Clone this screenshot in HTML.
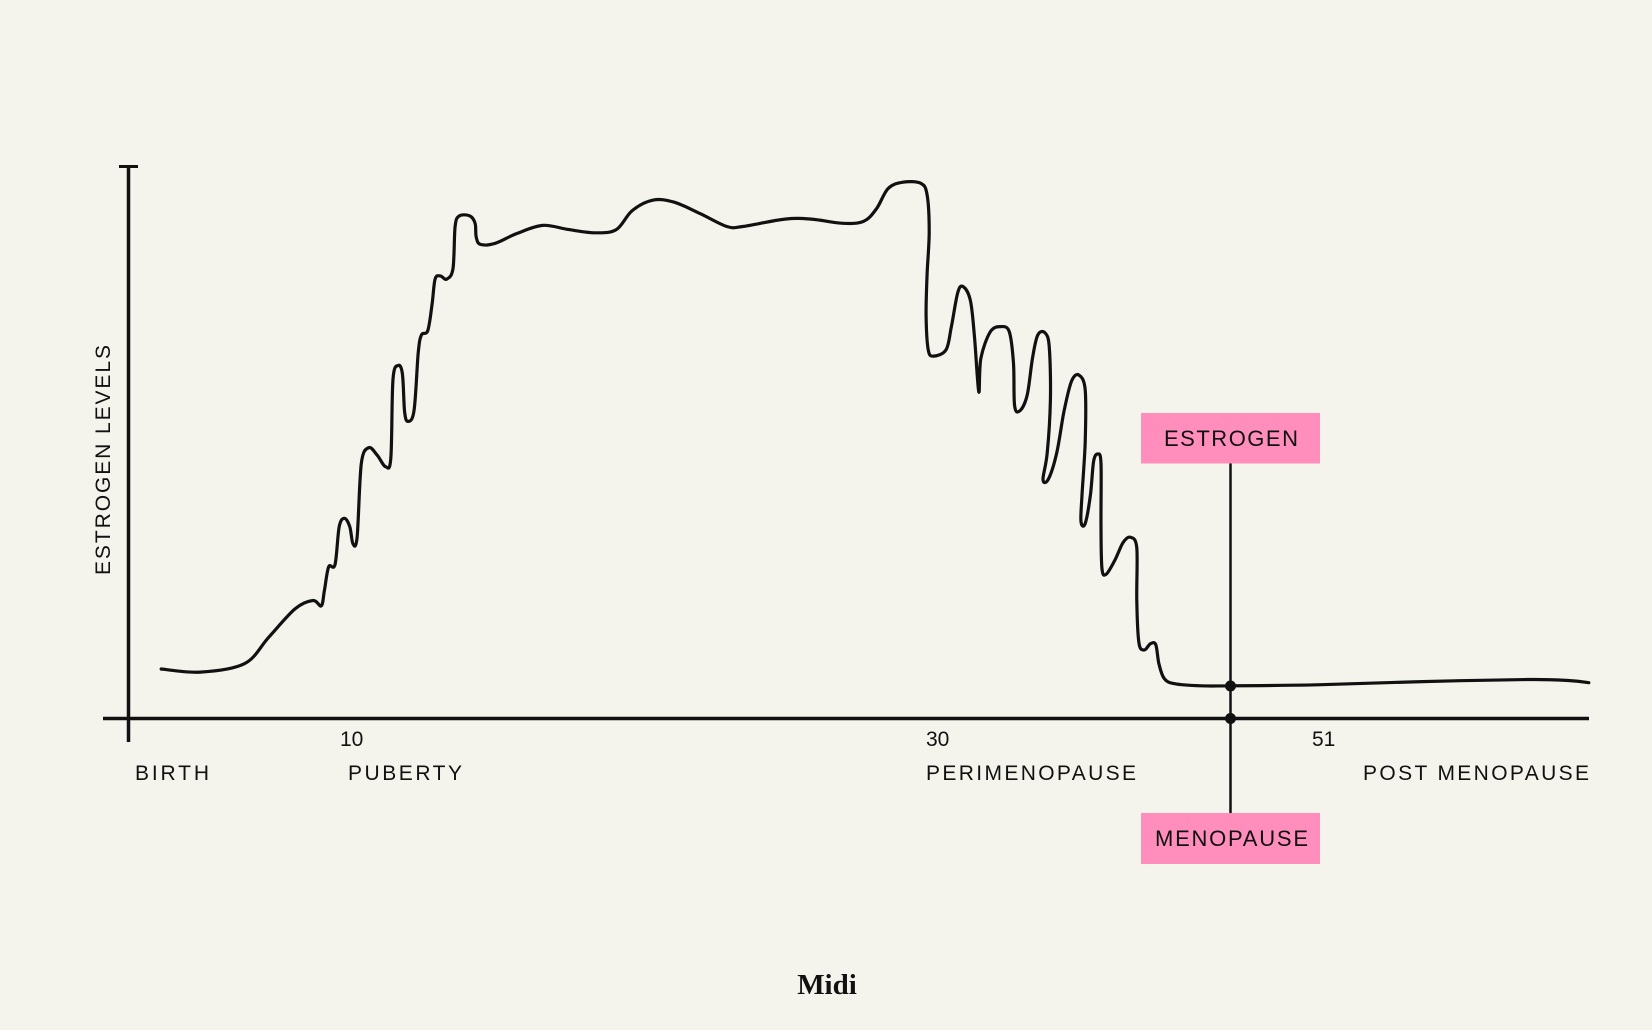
<!DOCTYPE html>
<html><head><meta charset="utf-8"><style>
html,body{margin:0;padding:0;background:#f4f4ec;}
svg{display:block;}
text{font-family:"Liberation Sans",sans-serif;fill:#111;}
</style></head><body>
<svg id="chart" width="1652" height="1030" viewBox="0 0 1652 1030" xmlns="http://www.w3.org/2000/svg">
<rect width="1652" height="1030" fill="#f4f4ec"/>
<g id="axes">
  <line x1="128.5" y1="166.5" x2="128.5" y2="742" stroke="#111" stroke-width="3.5"/>
  <line x1="119" y1="166.5" x2="138" y2="166.5" stroke="#111" stroke-width="3"/>
  <line x1="103" y1="718.5" x2="1589" y2="718.5" stroke="#111" stroke-width="3.5"/>
</g>
<text x="0" y="0" font-size="21" transform="translate(110,460) rotate(-90)" text-anchor="middle" textLength="230" lengthAdjust="spacing">ESTROGEN LEVELS</text>
<g id="labels" font-size="21">
  <text x="340" y="746">10</text>
  <text x="926" y="746">30</text>
  <text x="1312" y="746">51</text>
  <text x="135" y="780" textLength="74" lengthAdjust="spacing">BIRTH</text>
  <text x="348" y="780" textLength="114" lengthAdjust="spacing">PUBERTY</text>
  <text x="926" y="780" textLength="210" lengthAdjust="spacing">PERIMENOPAUSE</text>
  <text x="1363" y="780" textLength="226" lengthAdjust="spacing">POST MENOPAUSE</text>
</g>
<path id="curve" fill="none" stroke="#111" stroke-width="3.2" stroke-linejoin="round" stroke-linecap="round"/>
<g id="marker">
  <line x1="1230.5" y1="463" x2="1230.5" y2="814" stroke="#111" stroke-width="2.5"/>
  <circle cx="1230.5" cy="686" r="5.5" fill="#111"/>
  <circle cx="1230.5" cy="718.5" r="5.5" fill="#111"/>
  <rect x="1141" y="413" width="179" height="50.5" fill="#ff8ebd"/>
  <text x="1164" y="446" font-size="22" textLength="134" lengthAdjust="spacing">ESTROGEN</text>
  <rect x="1141" y="813" width="179" height="51" fill="#ff8ebd"/>
  <text x="1155" y="846" font-size="22" textLength="153" lengthAdjust="spacing">MENOPAUSE</text>
</g>
<text x="827" y="994" font-weight="bold" font-size="29" text-anchor="middle" style="font-family:'Liberation Serif',serif">Midi</text>
</svg>
<script>
// time position (arbitrary units along x-axis) and estrogen level (arbitrary units)
const times = [31,68,110,133,158,175,183,186,190,196,200,205,210,213,217,221,228,236,244,249,251,256,260,262,265,271,275,278,284,288,291,296,302,308,310,314,324,329,330,334,348,368,393,418,443,463,478,498,518,543,568,583,623,648,678,698,710,721,735,752,758,760,758,757,759,764,776,781,787,792,799,803,807,809,818,828,836,840,841,846,853,858,863,870,874,875,872,868,873,881,888,895,902,908,908,905,904,908,913,916,920,923,923,924,928,936,944,951,957,957,959,964,970,975,978,983,993,1018,1046,1128,1228,1328,1368,1386];
const levels = [47,44,52,77,104,112,107,122,144,146,182,190,182,166,172,242,257,250,239,247,322,335,327,292,282,292,347,364,368,392,417,420,417,427,467,477,477,470,457,450,451,460,468,464,461,464,482,492,490,479,467,467,474,474,470,472,484,503,509,508,497,462,422,382,350,344,350,372,404,410,397,362,310,342,367,372,367,337,297,292,307,342,364,366,352,302,252,227,227,252,292,320,326,312,262,212,187,185,212,244,251,242,182,142,137,150,167,172,162,112,72,65,71,70,52,38,33,31,31,32,35,37,36,34];
const X0 = 128.5, Y0 = 718.5, K = 1.0536;
function xScale(t){ return X0 + t*K; }
function yScale(v){ return Y0 - v*K; }
const pts = times.map((t,i)=>[xScale(t), yScale(levels[i])]);
let d = "M" + pts[0][0].toFixed(1) + "," + pts[0][1].toFixed(1);
for (let i=0;i<pts.length-1;i++){
  const p0=pts[Math.max(0,i-1)], p1=pts[i], p2=pts[i+1], p3=pts[Math.min(pts.length-1,i+2)];
  const s=6;
  const c1=[p1[0]+(p2[0]-p0[0])/s, p1[1]+(p2[1]-p0[1])/s];
  const c2=[p2[0]-(p3[0]-p1[0])/s, p2[1]-(p3[1]-p1[1])/s];
  d += " C"+c1[0].toFixed(1)+","+c1[1].toFixed(1)+" "+c2[0].toFixed(1)+","+c2[1].toFixed(1)+" "+p2[0].toFixed(1)+","+p2[1].toFixed(1);
}
document.getElementById('curve').setAttribute('d', d);
</script>
</body></html>
